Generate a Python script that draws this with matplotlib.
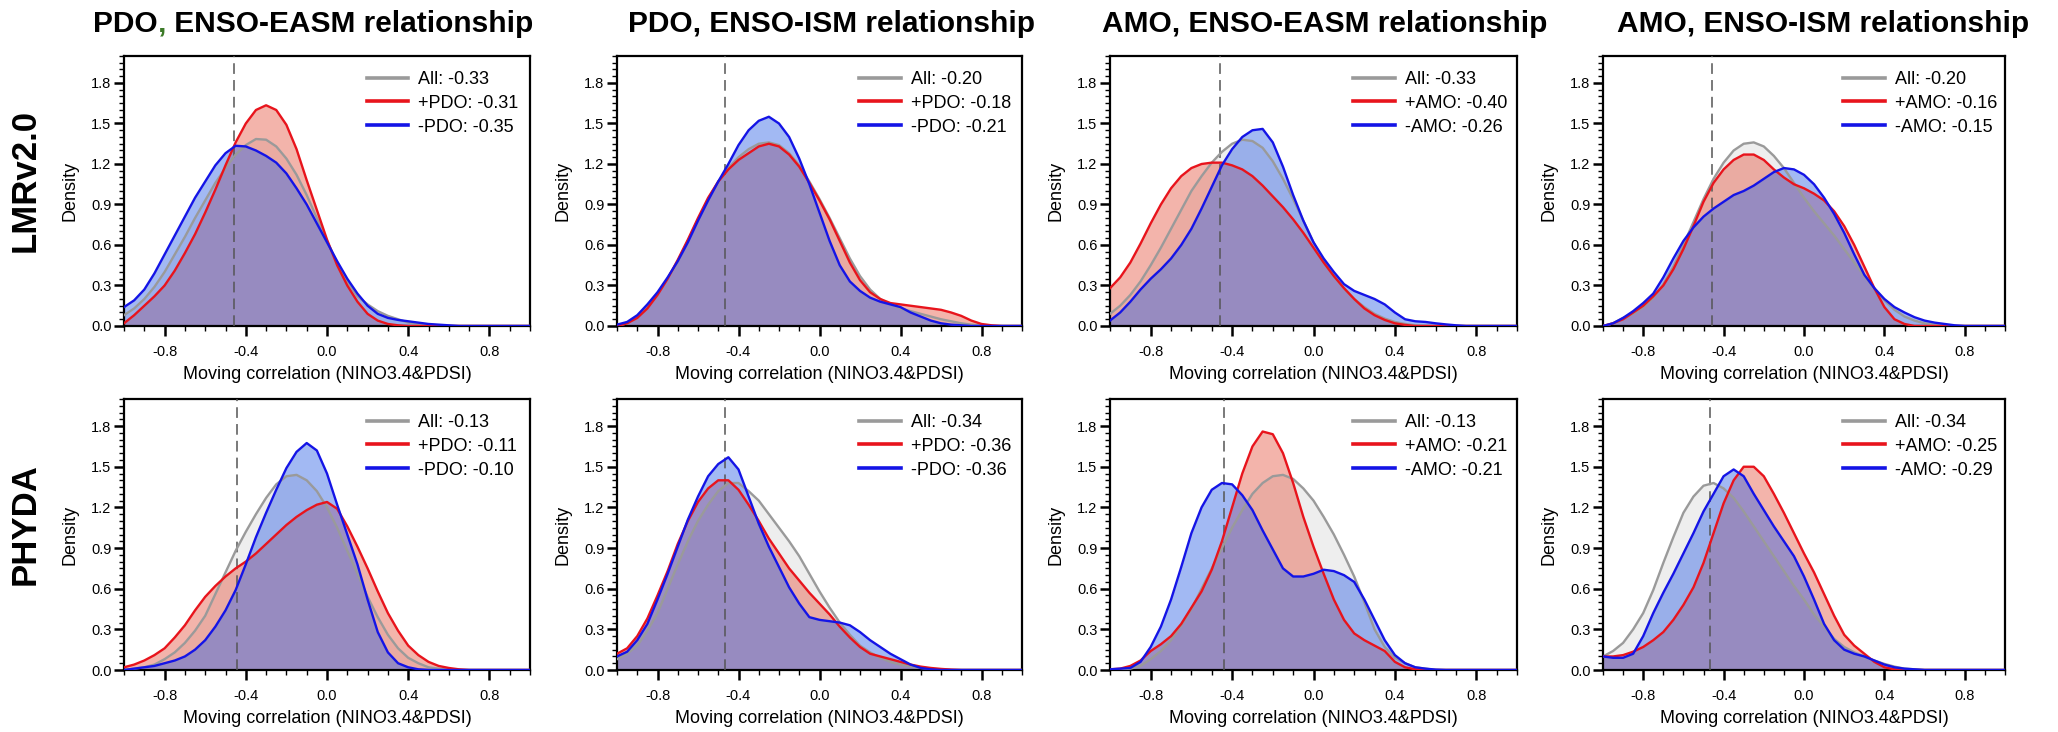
import numpy as np
import matplotlib
matplotlib.use("Agg")
import matplotlib.pyplot as plt
from matplotlib.ticker import MultipleLocator

plt.rcParams.update({"font.family": ["Liberation Sans", "DejaVu Sans"],
                     "axes.linewidth": 1.6, "figure.facecolor": "white"})

GREY_LN, RED_LN, BLUE_LN = "#9a9a9a", "#e8141c", "#1414e6"
GREY_FILL, RED_FILL, BLUE_FILL = "#c8c8c8", "#e65a46", "#3264e6"

# moving-correlation axis shared by all density curves
r = np.linspace(-1.0, 1.0, 41)

titles = ["PDO, ENSO-EASM relationship", "PDO, ENSO-ISM relationship",
          "AMO, ENSO-EASM relationship", "AMO, ENSO-ISM relationship"]
rows = ["LMRv2.0", "PHYDA"]
xlabel = "Moving correlation (NINO3.4&PDSI)"
xticks = [-0.8, -0.4, 0.0, 0.4, 0.8]
xticklabels = ["-0.8", "-0.4", "0.0", "0.4", "0.8"]
yticks = [0.0, 0.3, 0.6, 0.9, 1.2, 1.5, 1.8]
yticklabels = ["0.0", "0.3", "0.6", "0.9", "1.2", "1.5", "1.8"]

# significance threshold (dashed line) per panel, row-major
thresh = [-0.46, -0.465, -0.46, -0.46, -0.443, -0.465, -0.44, -0.468]

# legend labels per panel: (all, positive phase, negative phase)
labels = [
    ("All: -0.33", "+PDO: -0.31", "-PDO: -0.35"),
    ("All: -0.20", "+PDO: -0.18", "-PDO: -0.21"),
    ("All: -0.33", "+AMO: -0.40", "-AMO: -0.26"),
    ("All: -0.20", "+AMO: -0.16", "-AMO: -0.15"),
    ("All: -0.13", "+PDO: -0.11", "-PDO: -0.10"),
    ("All: -0.34", "+PDO: -0.36", "-PDO: -0.36"),
    ("All: -0.13", "+AMO: -0.21", "-AMO: -0.21"),
    ("All: -0.34", "+AMO: -0.25", "-AMO: -0.29"),
]

# ---- LMRv2.0 ----
lmr_pdo_easm_all = [0.08, 0.13, 0.20, 0.29, 0.40, 0.53, 0.66, 0.80, 0.93, 1.06, 1.17, 1.27, 1.34, 1.385, 1.38, 1.33, 1.24, 1.12, 0.97, 0.80,
                    0.63, 0.47, 0.33, 0.22, 0.16, 0.11, 0.075, 0.05, 0.025, 0.015, 0.01, 0.005, 0, 0, 0, 0, 0, 0, 0, 0, 0]
lmr_pdo_easm_pos = [0.02, 0.08, 0.15, 0.22, 0.30, 0.41, 0.54, 0.68, 0.84, 1.01, 1.19, 1.36, 1.50, 1.60, 1.635, 1.60, 1.49, 1.31, 1.08, 0.86,
                    0.64, 0.45, 0.30, 0.18, 0.09, 0.04, 0.015, 0.005, 0, 0, 0, 0, 0, 0, 0, 0, 0, 0, 0, 0, 0]
lmr_pdo_easm_neg = [0.14, 0.19, 0.27, 0.39, 0.53, 0.67, 0.81, 0.95, 1.07, 1.19, 1.28, 1.335, 1.33, 1.30, 1.26, 1.21, 1.13, 1.02, 0.90, 0.76,
                    0.62, 0.48, 0.35, 0.24, 0.15, 0.09, 0.06, 0.045, 0.035, 0.025, 0.015, 0.01, 0.005, 0, 0, 0, 0, 0, 0, 0, 0]

lmr_pdo_ism_all = [0.0, 0.02, 0.07, 0.14, 0.24, 0.35, 0.48, 0.63, 0.79, 0.94, 1.07, 1.17, 1.25, 1.31, 1.35, 1.36, 1.34, 1.28, 1.19, 1.07,
                   0.94, 0.80, 0.65, 0.50, 0.37, 0.27, 0.20, 0.16, 0.13, 0.11, 0.09, 0.07, 0.05, 0.035, 0.02, 0.01, 0.005, 0, 0, 0, 0]
lmr_pdo_ism_pos = [0.0, 0.02, 0.06, 0.13, 0.23, 0.35, 0.49, 0.64, 0.80, 0.95, 1.07, 1.16, 1.23, 1.28, 1.33, 1.35, 1.33, 1.27, 1.18, 1.06,
                   0.93, 0.79, 0.63, 0.47, 0.34, 0.25, 0.20, 0.17, 0.16, 0.15, 0.14, 0.13, 0.12, 0.10, 0.075, 0.04, 0.015, 0.005, 0, 0, 0]
lmr_pdo_ism_neg = [0.01, 0.03, 0.08, 0.16, 0.25, 0.36, 0.48, 0.62, 0.78, 0.93, 1.07, 1.20, 1.34, 1.45, 1.52, 1.55, 1.50, 1.40, 1.24, 1.05,
                   0.84, 0.63, 0.45, 0.33, 0.26, 0.21, 0.18, 0.16, 0.14, 0.10, 0.07, 0.04, 0.02, 0.01, 0.005, 0, 0, 0, 0, 0, 0]

lmr_amo_easm_all = [0.09, 0.15, 0.23, 0.33, 0.45, 0.58, 0.72, 0.86, 1.00, 1.11, 1.21, 1.29, 1.35, 1.38, 1.37, 1.32, 1.22, 1.09, 0.94, 0.78,
                    0.62, 0.48, 0.37, 0.28, 0.20, 0.14, 0.09, 0.055, 0.03, 0.015, 0.005, 0, 0, 0, 0, 0, 0, 0, 0, 0, 0]
lmr_amo_easm_pos = [0.28, 0.36, 0.47, 0.61, 0.76, 0.90, 1.02, 1.11, 1.17, 1.20, 1.21, 1.21, 1.19, 1.16, 1.11, 1.04, 0.96, 0.88, 0.79, 0.69,
                    0.58, 0.47, 0.37, 0.28, 0.20, 0.13, 0.08, 0.045, 0.02, 0.008, 0, 0, 0, 0, 0, 0, 0, 0, 0, 0, 0]
lmr_amo_easm_neg = [0.04, 0.10, 0.18, 0.27, 0.35, 0.42, 0.50, 0.60, 0.72, 0.87, 1.03, 1.19, 1.31, 1.40, 1.45, 1.46, 1.36, 1.18, 0.97, 0.78,
                    0.62, 0.50, 0.40, 0.31, 0.26, 0.23, 0.20, 0.16, 0.10, 0.05, 0.035, 0.03, 0.02, 0.012, 0.005, 0, 0, 0, 0, 0, 0]

lmr_amo_ism_all = [0.0, 0.02, 0.06, 0.09, 0.14, 0.21, 0.31, 0.44, 0.60, 0.77, 0.94, 1.09, 1.21, 1.30, 1.35, 1.36, 1.33, 1.26, 1.17, 1.06,
                   0.95, 0.85, 0.76, 0.67, 0.57, 0.47, 0.37, 0.28, 0.19, 0.12, 0.07, 0.04, 0.02, 0.01, 0, 0, 0, 0, 0, 0, 0]
lmr_amo_ism_pos = [0.0, 0.02, 0.05, 0.10, 0.15, 0.22, 0.30, 0.42, 0.57, 0.74, 0.92, 1.06, 1.16, 1.23, 1.27, 1.27, 1.23, 1.16, 1.10, 1.05,
                   1.02, 0.98, 0.93, 0.85, 0.74, 0.60, 0.44, 0.28, 0.14, 0.05, 0.015, 0, 0, 0, 0, 0, 0, 0, 0, 0, 0]
lmr_amo_ism_neg = [0.0, 0.02, 0.06, 0.11, 0.17, 0.24, 0.36, 0.50, 0.63, 0.73, 0.81, 0.87, 0.92, 0.97, 1.00, 1.04, 1.09, 1.14, 1.17, 1.16,
                   1.12, 1.05, 0.95, 0.83, 0.69, 0.53, 0.38, 0.28, 0.20, 0.14, 0.10, 0.065, 0.04, 0.025, 0.015, 0.005, 0, 0, 0, 0, 0]

# ---- PHYDA ----
phy_pdo_easm_all = [0.0, 0.01, 0.02, 0.04, 0.08, 0.13, 0.20, 0.29, 0.40, 0.56, 0.72, 0.88, 1.02, 1.15, 1.27, 1.37, 1.43, 1.44, 1.40, 1.32,
                    1.20, 1.05, 0.88, 0.71, 0.54, 0.39, 0.26, 0.16, 0.09, 0.05, 0.02, 0.01, 0, 0, 0, 0, 0, 0, 0, 0, 0]
phy_pdo_easm_pos = [0.02, 0.04, 0.07, 0.11, 0.16, 0.24, 0.33, 0.44, 0.54, 0.62, 0.69, 0.75, 0.80, 0.86, 0.93, 1.00, 1.07, 1.13, 1.18, 1.22,
                    1.24, 1.19, 1.06, 0.91, 0.75, 0.58, 0.42, 0.29, 0.18, 0.11, 0.06, 0.03, 0.015, 0.005, 0, 0, 0, 0, 0, 0, 0]
phy_pdo_easm_neg = [0.0, 0.01, 0.02, 0.03, 0.05, 0.07, 0.10, 0.15, 0.22, 0.32, 0.44, 0.59, 0.78, 0.98, 1.16, 1.33, 1.49, 1.61, 1.675, 1.62,
                    1.45, 1.22, 1.00, 0.78, 0.52, 0.28, 0.13, 0.05, 0.02, 0.005, 0, 0, 0, 0, 0, 0, 0, 0, 0, 0, 0]

phy_pdo_ism_all = [0.08, 0.12, 0.18, 0.29, 0.42, 0.60, 0.78, 0.95, 1.10, 1.22, 1.32, 1.38, 1.38, 1.32, 1.25, 1.15, 1.05, 0.95, 0.84, 0.71,
                   0.58, 0.46, 0.35, 0.26, 0.18, 0.13, 0.09, 0.06, 0.04, 0.025, 0.015, 0.008, 0.003, 0, 0, 0, 0, 0, 0, 0, 0]
phy_pdo_ism_pos = [0.12, 0.16, 0.25, 0.38, 0.55, 0.73, 0.93, 1.10, 1.24, 1.34, 1.40, 1.40, 1.33, 1.22, 1.10, 0.97, 0.86, 0.75, 0.66, 0.57,
                   0.49, 0.41, 0.32, 0.24, 0.17, 0.12, 0.10, 0.08, 0.06, 0.04, 0.025, 0.015, 0.008, 0.003, 0, 0, 0, 0, 0, 0, 0]
phy_pdo_ism_neg = [0.10, 0.135, 0.22, 0.34, 0.52, 0.71, 0.91, 1.11, 1.28, 1.43, 1.52, 1.57, 1.48, 1.28, 1.08, 0.91, 0.76, 0.61, 0.49, 0.39,
                   0.37, 0.36, 0.35, 0.33, 0.28, 0.22, 0.17, 0.12, 0.08, 0.04, 0.015, 0.005, 0, 0, 0, 0, 0, 0, 0, 0, 0]

phy_amo_easm_all = [0.0, 0.005, 0.01, 0.03, 0.08, 0.14, 0.22, 0.33, 0.45, 0.60, 0.75, 0.90, 1.05, 1.18, 1.30, 1.38, 1.43, 1.44, 1.41, 1.34,
                    1.25, 1.13, 1.00, 0.85, 0.69, 0.50, 0.30, 0.17, 0.09, 0.05, 0.02, 0.01, 0, 0, 0, 0, 0, 0, 0, 0, 0]
phy_amo_easm_pos = [0.005, 0.01, 0.03, 0.07, 0.14, 0.19, 0.25, 0.34, 0.46, 0.58, 0.74, 0.95, 1.20, 1.45, 1.65, 1.76, 1.74, 1.60, 1.38, 1.13,
                    0.91, 0.71, 0.52, 0.37, 0.27, 0.22, 0.18, 0.14, 0.06, 0.02, 0.005, 0, 0, 0, 0, 0, 0, 0, 0, 0, 0]
phy_amo_easm_neg = [0.005, 0.01, 0.015, 0.06, 0.17, 0.32, 0.52, 0.76, 1.01, 1.20, 1.33, 1.38, 1.37, 1.29, 1.18, 1.03, 0.89, 0.75, 0.69, 0.69,
                    0.71, 0.74, 0.73, 0.70, 0.65, 0.52, 0.37, 0.22, 0.11, 0.05, 0.02, 0.01, 0.003, 0, 0, 0, 0, 0, 0, 0, 0]

phy_amo_ism_all = [0.10, 0.14, 0.20, 0.30, 0.42, 0.59, 0.79, 0.98, 1.16, 1.28, 1.36, 1.38, 1.34, 1.27, 1.17, 1.06, 0.95, 0.84, 0.73, 0.62,
                   0.52, 0.41, 0.32, 0.23, 0.17, 0.13, 0.10, 0.07, 0.045, 0.025, 0.01, 0.005, 0, 0, 0, 0, 0, 0, 0, 0, 0]
phy_amo_ism_pos = [0.10, 0.10, 0.11, 0.135, 0.17, 0.22, 0.28, 0.37, 0.48, 0.61, 0.79, 1.01, 1.23, 1.40, 1.50, 1.50, 1.43, 1.30, 1.16, 1.01,
                   0.86, 0.72, 0.56, 0.40, 0.26, 0.18, 0.12, 0.06, 0.02, 0.005, 0, 0, 0, 0, 0, 0, 0, 0, 0, 0, 0]
phy_amo_ism_neg = [0.10, 0.09, 0.09, 0.12, 0.25, 0.42, 0.57, 0.71, 0.86, 1.01, 1.17, 1.30, 1.43, 1.48, 1.43, 1.30, 1.18, 1.06, 0.95, 0.84,
                   0.69, 0.52, 0.34, 0.22, 0.15, 0.12, 0.10, 0.07, 0.04, 0.02, 0.01, 0.005, 0, 0, 0, 0, 0, 0, 0, 0, 0]

panels = [
    (lmr_pdo_easm_all, lmr_pdo_easm_pos, lmr_pdo_easm_neg),
    (lmr_pdo_ism_all, lmr_pdo_ism_pos, lmr_pdo_ism_neg),
    (lmr_amo_easm_all, lmr_amo_easm_pos, lmr_amo_easm_neg),
    (lmr_amo_ism_all, lmr_amo_ism_pos, lmr_amo_ism_neg),
    (phy_pdo_easm_all, phy_pdo_easm_pos, phy_pdo_easm_neg),
    (phy_pdo_ism_all, phy_pdo_ism_pos, phy_pdo_ism_neg),
    (phy_amo_easm_all, phy_amo_easm_pos, phy_amo_easm_neg),
    (phy_amo_ism_all, phy_amo_ism_pos, phy_amo_ism_neg),
]

W, H = 2058, 732
lefts = [124, 617, 1110, 1603]
widths = [406, 405, 407, 402]
tops = [56, 399]
heights = [270, 271]
title_cx = [313, 831, 1325, 1823]
TITLE_FS = 21.5


def draw_panel(ax, curves, labs, th):
    all_, pos, neg = (np.asarray(c) for c in curves)
    ax.fill_between(r, 0, all_, color=GREY_FILL, alpha=0.3, lw=0)
    ax.fill_between(r, 0, pos, color=RED_FILL, alpha=0.45, lw=0)
    ax.fill_between(r, 0, neg, color=BLUE_FILL, alpha=0.45, lw=0)
    ax.axvline(th, color="#555555", lw=1.1, dashes=(7, 4), zorder=3)
    h0, = ax.plot(r, all_, color=GREY_LN, lw=1.7, zorder=4)
    h1, = ax.plot(r, pos, color=RED_LN, lw=1.7, zorder=5)
    h2, = ax.plot(r, neg, color=BLUE_LN, lw=1.7, zorder=6)
    leg = ax.legend([h0, h1, h2], labs, loc="upper left", bbox_to_anchor=(0.598, 0.945),
                    frameon=False, fontsize=13, handlelength=2.3, handletextpad=0.55,
                    labelspacing=0.38, borderpad=0, borderaxespad=0)
    for ln in leg.get_lines():
        ln.set_linewidth(2.6)
    ax.set_xlim(-1, 1); ax.set_ylim(0, 2.0)
    ax.set_xticks(xticks); ax.set_xticklabels(xticklabels)
    ax.set_yticks(yticks); ax.set_yticklabels(yticklabels)
    ax.xaxis.set_minor_locator(MultipleLocator(0.1))
    ax.yaxis.set_minor_locator(MultipleLocator(0.05))
    ax.tick_params(which="major", direction="out", length=7.5, width=1.8, labelsize=10.5)
    ax.tick_params(which="minor", direction="out", length=3.5, width=1.0)
    ax.tick_params(axis="x", which="major", pad=6)
    ax.tick_params(axis="y", which="major", pad=1.5)
    ax.set_xlabel(xlabel, fontsize=13, labelpad=5)
    ax.set_ylabel("Density", fontsize=13, labelpad=9)


def text_width(fig, rend, s):
    t = fig.text(0, 0, s, fontsize=TITLE_FS, fontweight="bold")
    w = t.get_window_extent(rend).width
    t.remove()
    return w


def main():
    fig = plt.figure(figsize=(W / 100, H / 100), dpi=100)
    for i, curves in enumerate(panels):
        row, col = divmod(i, 4)
        rect = [lefts[col] / W, 1 - (tops[row] + heights[row]) / H, widths[col] / W, heights[row] / H]
        ax = fig.add_axes(rect)
        draw_panel(ax, curves, labels[i], thresh[i])

    # column titles; the first one is set in three pieces so its comma can be green
    yb = 1 - 32 / H
    for col, t in enumerate(titles[1:], start=1):
        fig.text(title_cx[col] / W, yb, t, ha="center", va="baseline", fontsize=TITLE_FS, fontweight="bold")
    fig.canvas.draw()
    rend = fig.canvas.get_renderer()
    head, tail = titles[0].split(",", 1)
    x0 = title_cx[0] - text_width(fig, rend, titles[0]) / 2
    x1 = x0 + text_width(fig, rend, head)
    x2 = x0 + text_width(fig, rend, head + ",")
    kw = dict(va="baseline", ha="left", fontsize=TITLE_FS, fontweight="bold")
    fig.text(x0 / W, yb, head, **kw)
    fig.text(x1 / W, yb, ",", color="#3c7a28", **kw)
    fig.text(x2 / W, yb, tail, **kw)

    # row labels
    for row, name in enumerate(rows):
        cy = tops[row] + heights[row] / 2 - 10
        fig.text(25 / W, 1 - cy / H, name, rotation=90, ha="center", va="center",
                 fontsize=25, fontweight="bold")

    fig.savefig("out.png", dpi=100)
    plt.close(fig)


if __name__ == "__main__":
    main()
